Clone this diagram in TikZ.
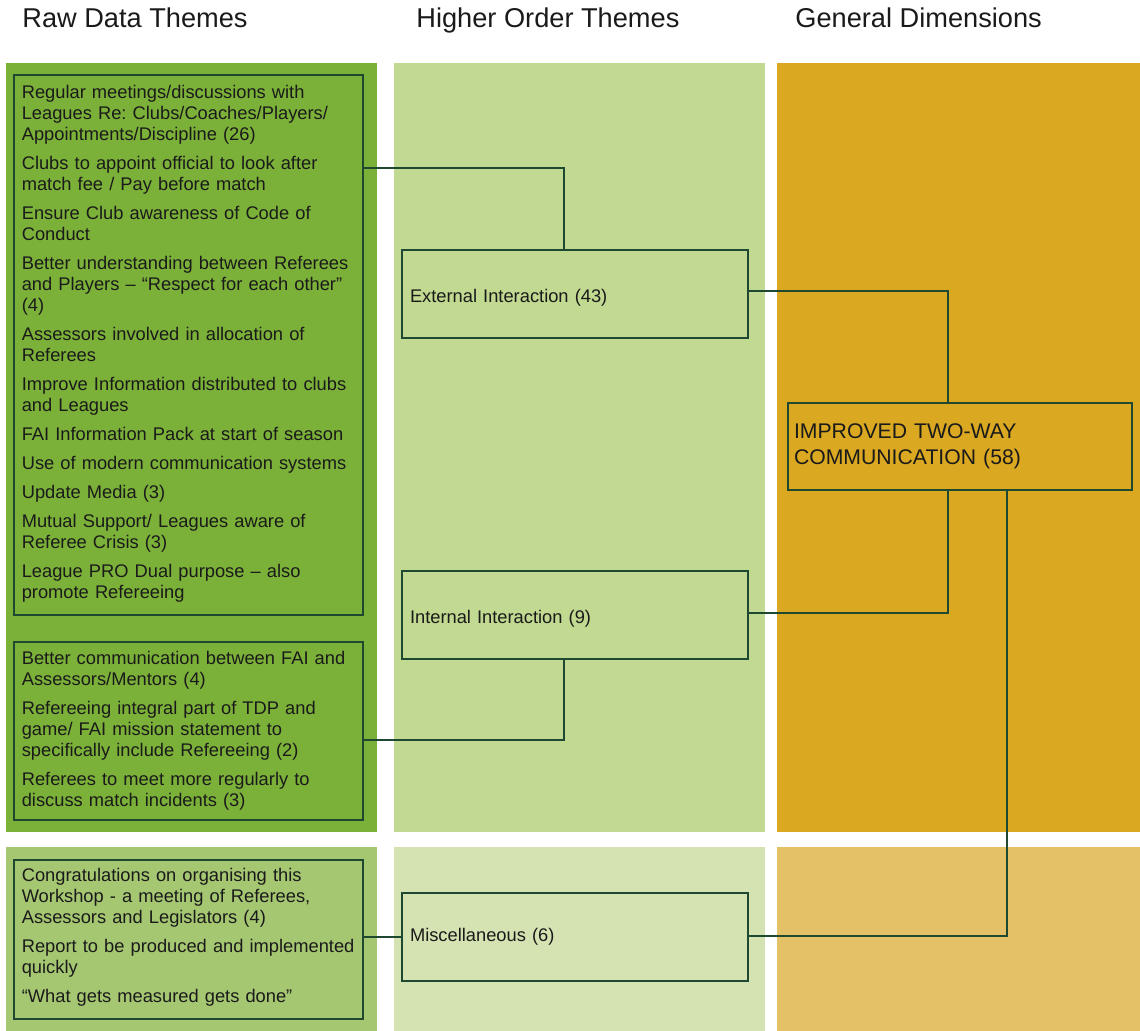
\documentclass[tikz,border=0pt]{standalone}
\usepackage{fontspec}
\setmainfont{Liberation Sans}
\definecolor{colA}{RGB}{124,177,57}
\definecolor{colB}{RGB}{193,217,144}
\definecolor{colC}{RGB}{219,168,34}
\definecolor{colAl}{RGB}{166,199,114}
\definecolor{colBl}{RGB}{213,227,178}
\definecolor{colCl}{RGB}{228,192,103}
\definecolor{rule}{RGB}{30,72,48}
\definecolor{ink}{RGB}{26,26,26}
\tikzset{
  coltitle/.style={anchor=base west, inner sep=0pt, text=ink,
    font=\fontsize{13.6}{16}\selectfont},
  rawbox/.style={draw=rule, line width=0.6pt, minimum width=174.5pt,
    inner sep=0pt},
  rawtext/.style={anchor=west, inner sep=0pt, text width=172pt, align=left,
    text=ink, font=\fontsize{9.15}{10.5}\selectfont\frenchspacing},
  themebox/.style={draw=rule, line width=0.6pt, minimum width=173pt,
    minimum height=44pt, text width=165pt, inner xsep=4pt, align=left,
    text=ink, font=\fontsize{9.15}{10.5}\selectfont},
  lowered/.style={text height=9pt, text depth=0pt},
  dimbox/.style={draw=rule, line width=0.6pt, minimum width=172pt,
    minimum height=43.5pt, text width=166pt, inner xsep=3pt, align=left,
    text=ink, font=\fontsize{10.6}{13}\selectfont},
  link/.style={draw=rule, line width=0.65pt}
}
\newcommand{\gap}{\\[4pt]}
\begin{document}
\begin{tikzpicture}[x=0.5pt,y=-0.5pt]
\useasboundingbox (0,0) rectangle (1140,1031);

% column backgrounds
\fill[colA]  (6,63)   rectangle (377,832);
\fill[colB]  (394,63) rectangle (765,832);
\fill[colC]  (777,63) rectangle (1140,832);
\fill[colAl] (6,847)   rectangle (377,1031);
\fill[colBl] (394,847) rectangle (765,1031);
\fill[colCl] (777,847) rectangle (1140,1031);

% column headings
\node[coltitle] (h1) at (22,28)  {Raw Data Themes};
\node[coltitle] (h2) at (416,28) {Higher Order Themes};
\node[coltitle] (h3) at (795,28) {General Dimensions};

% raw data themes: frames
\node[rawbox, minimum height=270pt]  (r1) at (188.5,345)   {};
\node[rawbox, minimum height=89pt]   (r2) at (188.5,731)   {};
\node[rawbox, minimum height=79.5pt] (r3) at (188.5,939.5) {};

% raw data themes: statements
\node[rawtext] (t1) at ([xshift=4pt,yshift=0.75pt]r1.west) {%
Regular meetings/discussions with\\ Leagues Re: Clubs/Coaches/Players/\\ Appointments/Discipline (26)\gap
Clubs to appoint official to look after\\ match fee / Pay before match\gap
Ensure Club awareness of Code of\\ Conduct\gap
Better understanding between Referees\\ and Players – “Respect for each other”\\ (4)\gap
Assessors involved in allocation of\\ Referees\gap
Improve Information distributed to clubs\\ and Leagues\gap
FAI Information Pack at start of season\gap
Use of modern communication systems\gap
Update Media (3)\gap
Mutual Support/ Leagues aware of\\ Referee Crisis (3)\gap
League PRO Dual purpose – also\\ promote Refereeing};

\node[rawtext] (t2) at ([xshift=4pt,yshift=0.25pt]r2.west) {%
Better communication between FAI and\\ Assessors/Mentors (4)\gap
Refereeing integral part of TDP and\\ game/ FAI mission statement to\\ specifically include Refereeing (2)\gap
Referees to meet more regularly to\\ discuss match incidents (3)};

\node[rawtext] (t3) at ([xshift=4pt,yshift=1pt]r3.west) {%
Congratulations on organising this\\ Workshop - a meeting of Referees,\\ Assessors and Legislators (4)\gap
Report to be produced and implemented\\ quickly\gap
“What gets measured gets done”};

% higher order themes
\node[themebox, lowered] (ext)  at (575,294) {External Interaction (43)};
\node[themebox, lowered] (int)  at (575,615) {Internal Interaction (9)};
\node[themebox]          (misc) at (575,937) {Miscellaneous (6)};

% general dimension
\node[dimbox] (dim) at (960,446.5) {IMPROVED TWO-WAY\\ COMMUNICATION (58)};

% connector bends
\coordinate (k1) at (564,168);
\coordinate (k2) at (948,291);
\coordinate (k3) at (948,613);
\coordinate (k4) at (1007,936);
\coordinate (k5) at (564,740);

\draw[link] (r1.east |- k1) -| (ext.north -| k1);
\draw[link] (ext.east |- k2) -| (dim.north -| k2);
\draw[link] (dim.south -| k3) |- (int.east |- k3);
\draw[link] (dim.south -| k4) |- (misc.east |- k4);
\draw[link] (int.south -| k5) |- (r2.east |- k5);
\draw[link] (r3.east |- misc.west) -- (misc.west);
\end{tikzpicture}
\end{document}
